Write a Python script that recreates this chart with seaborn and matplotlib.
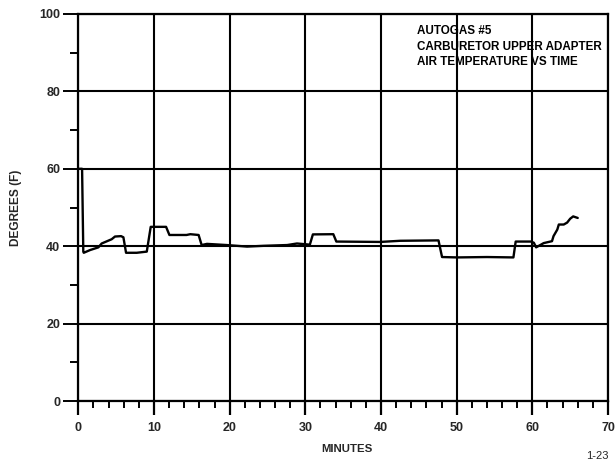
import numpy as np
import pandas as pd
import matplotlib
matplotlib.use("Agg")
import matplotlib.pyplot as plt
import seaborn as sns
from matplotlib.ticker import MultipleLocator

# ---- data ----
minutes = [0.1, 0.5, 0.66, 0.72, 1.55, 2.65, 3.09, 4.41, 4.85, 5.65, 5.96, 6.31, 7.72,
           9.05, 9.57, 11.6, 12.04, 14.3, 14.8, 15.9, 16.3, 17.0, 19.6, 22.3, 24.5,
           27.6, 28.9, 30.6, 31.0, 33.7, 34.1, 39.9, 42.55, 47.6, 48.07, 50.05, 54.0,
           57.5, 57.8, 59.8, 60.2, 60.5, 61.5, 62.6, 62.8, 63.3, 63.5, 64.15, 64.6,
           65.0, 65.4, 66.0]
degrees = [60.0, 60.0, 38.6, 38.3, 39.0, 39.7, 40.7, 41.8, 42.5, 42.6, 42.3, 38.3, 38.3,
           38.6, 45.0, 45.0, 42.9, 42.9, 43.1, 42.9, 40.3, 40.6, 40.3, 39.9, 40.1,
           40.3, 40.7, 40.4, 43.05, 43.1, 41.2, 41.1, 41.4, 41.5, 37.2, 37.1, 37.2,
           37.1, 41.2, 41.2, 40.9, 39.7, 40.8, 41.3, 42.6, 44.3, 45.6, 45.6, 46.1,
           47.1, 47.7, 47.3]
x_ticks = [0, 10, 20, 30, 40, 50, 60, 70]
y_ticks = [0, 20, 40, 60, 80, 100]
title_lines = ["AUTOGAS #5", "CARBURETOR UPPER ADAPTER", "AIR TEMPERATURE VS TIME"]

df = pd.DataFrame({"MINUTES": minutes, "DEGREES": degrees})

sns.set_style("white")
plt.rcParams["font.family"] = ["Liberation Sans", "DejaVu Sans"]
plt.rcParams["font.weight"] = "bold"

fig = plt.figure(figsize=(6.16, 4.62), dpi=100)
ax = fig.add_axes([78.3 / 616, 1 - 401 / 462, (608 - 78.3) / 616, (401 - 14) / 462])

sns.lineplot(data=df, x="MINUTES", y="DEGREES", ax=ax, color="black", linewidth=1.7,
             estimator=None, sort=False)

ax.set_xlim(0, 70)
ax.set_ylim(0, 100)
ax.set_xticks(x_ticks)
ax.set_yticks(y_ticks)
ax.set_xticklabels([str(t) for t in x_ticks], fontsize=9, fontweight="bold")
ax.set_yticklabels([str(t) for t in y_ticks], fontsize=9, fontweight="bold")
ax.xaxis.set_minor_locator(MultipleLocator(2))
ax.yaxis.set_minor_locator(MultipleLocator(10))
ax.tick_params(axis="x", which="major", direction="out", length=10, width=1.6,
               color="black", pad=5, bottom=True)
ax.tick_params(axis="x", which="minor", direction="out", length=5, width=1.4,
               color="black", bottom=True)
ax.tick_params(axis="y", which="major", direction="out", length=11, width=1.4,
               color="black", pad=2, left=True)
ax.tick_params(axis="y", which="minor", direction="out", length=6, width=1.4,
               color="black", left=True)

ax.grid(True, which="major", color="black", linewidth=1.5)
for s in ax.spines.values():
    s.set_visible(True)
    s.set_color("black")
    s.set_linewidth(1.6)

ax.set_xlabel("")
ax.set_ylabel("")

for i, line in enumerate(title_lines):
    ax.text(44.8, 95.6 - 4.0 * i, line, fontsize=8.4, fontweight="bold",
            ha="left", va="center", color="black")

fig.text(347 / 616, 1 - 449 / 462, "MINUTES", ha="center", va="center",
         fontsize=8.2, fontweight="bold")
fig.text(16 / 616, 1 - 208 / 462, "DEGREES (F)", ha="center", va="center",
         rotation=90, fontsize=8.6, fontweight="bold")
fig.text(597 / 616, 1 - 456 / 462, "1-23", ha="center", va="center",
         fontsize=8, fontweight="normal")

fig.savefig("out.png", dpi=100, facecolor="white")
